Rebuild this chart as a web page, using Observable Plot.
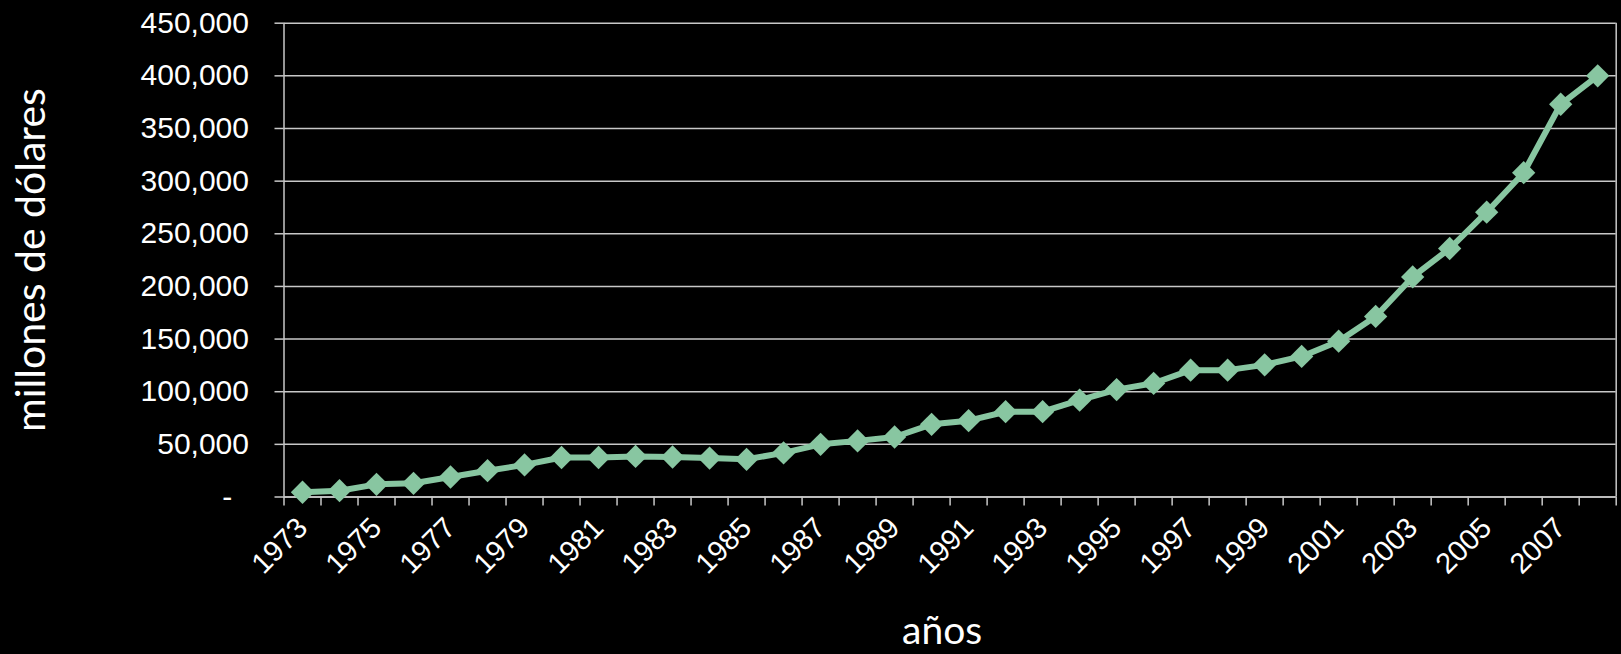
<!DOCTYPE html>
<html>
<head>
<meta charset="utf-8">
<script src="https://cdn.jsdelivr.net/npm/d3@7"></script>
<script src="https://cdn.jsdelivr.net/npm/@observablehq/plot@0.6"></script>
<style>
  html, body { margin: 0; padding: 0; background: #000; }
  #chart svg { display: block; }
</style>
</head>
<body>
<div id="chart"></div>
<script>
const years = [1973,1974,1975,1976,1977,1978,1979,1980,1981,1982,1983,1984,1985,1986,1987,1988,1989,1990,
               1991,1992,1993,1994,1995,1996,1997,1998,1999,2000,2001,2002,2003,2004,2005,2006,2007,2008];
const values = [4500,6000,12000,13000,19000,25000,30500,37500,37500,38500,38000,37000,35800,41900,50000,53300,57000,69000,
                72500,81000,81000,92000,102000,108000,120500,120500,125500,133500,148000,171500,209000,236000,270500,308000,373000,400000];
const yTicks = [0,50000,100000,150000,200000,250000,300000,350000,400000,450000];
const xLabelYears = years.filter(y => y % 2 === 1);
const xBoundaries = [...years.map(y => y - 0.5), 2008.5];
const yTitle = ["millones de dólares"];
const xTitle = ["años"];

const data = years.map((year, i) => ({year, value: values[i]}));
const green = "#88c6a1";
const grid = "#c8c8c8";
const fmt = d3.format(",");

const chart = Plot.plot({
  width: 1621,
  height: 654,
  marginLeft: 283.5,
  marginRight: 5.3,
  marginTop: 22.7,
  marginBottom: 157.5,
  style: {background: "#000", color: "#fff", fontFamily: "'Liberation Sans', Arial, sans-serif", fontSize: "29px"},
  x: {type: "linear", domain: [1972.5, 2008.5]},
  y: {domain: [0, 450000]},
  marks: [
    Plot.gridY(yTicks, {stroke: grid, strokeOpacity: 1, strokeWidth: 1.5}),
    Plot.ruleX([2008.5], {stroke: grid, strokeWidth: 1.5}),
    Plot.ruleX([1972.5], {stroke: grid, strokeWidth: 1.5}),
    Plot.ruleY([0], {stroke: grid, strokeWidth: 1.5}),
    Plot.axisY(yTicks, {tickSize: 9, tickPadding: 26, stroke: grid, strokeWidth: 1.5,
      tickFormat: d => d === 0 ? "-\u2007" : fmt(d), label: null, fill: "#fff", fontSize: 30}),
    Plot.axisX(xBoundaries, {tickSize: 9, stroke: grid, strokeWidth: 1.5, tickFormat: () => "", label: null}),
    Plot.axisX(xLabelYears, {tickSize: 0, tickPadding: 26, tickRotate: -45, tickFormat: d => String(d), label: null, fill: "#fff", fontSize: 29}),
    Plot.line(data, {x: "year", y: "value", stroke: green, strokeWidth: 6, strokeLinejoin: "round"}),
    Plot.dot(data, {x: "year", y: "value", symbol: "diamond2", r: 10.5, fill: green, stroke: "none"}),
    Plot.text(yTitle, {frameAnchor: "left", dx: -252, rotate: -90, fill: "#fff",
      fontFamily: "Lato, 'Open Sans', sans-serif", fontSize: 41, textAnchor: "middle"}),
    Plot.text(xTitle, {frameAnchor: "bottom", dx: -8, dy: 147, fill: "#fff",
      fontFamily: "Lato, 'Open Sans', sans-serif", fontSize: 39, textAnchor: "middle"})
  ]
});
document.getElementById("chart").appendChild(chart);
</script>
</body>
</html>
